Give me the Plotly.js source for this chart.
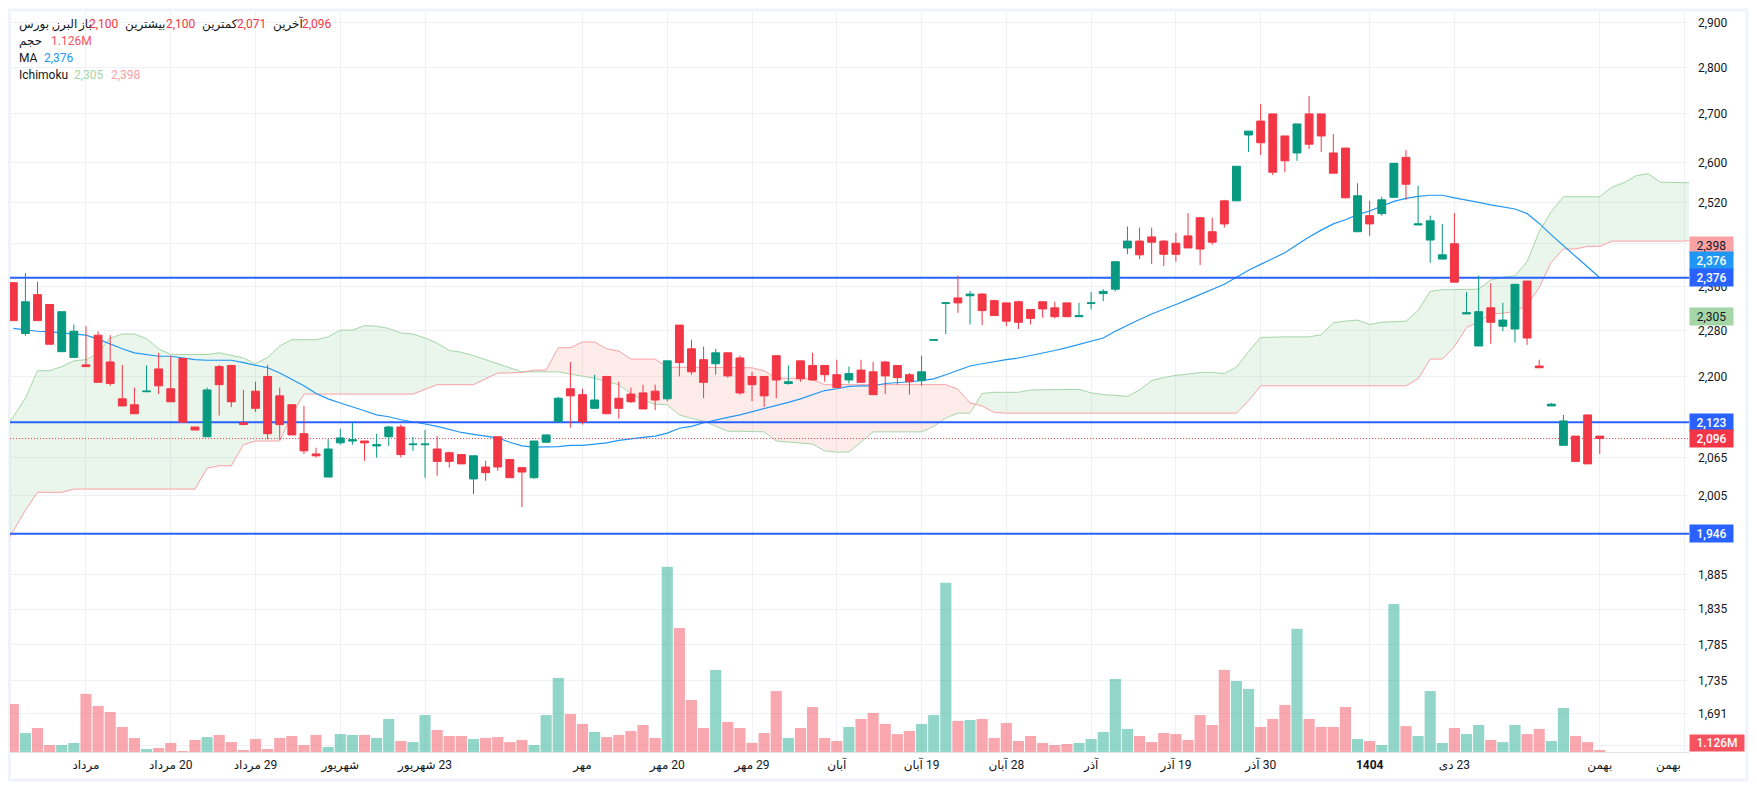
<!DOCTYPE html>
<html><head><meta charset="utf-8">
<script src="https://cdn.plot.ly/plotly-3.0.1.min.js"></script>
<style>html,body{margin:0;padding:0;background:#fff;overflow:hidden}#c{width:1757px;height:790px}</style>
</head><body><div id="c"></div>
<script>
const opens=[2367,2275,2345,2327,2243,2233,2220,2272,2225,2162,2152,2174,2213,2179,2231,2115,2099,2217,2219,2122,2175,2200,2167,2152,2104,2071,2034,2089,2092,2092,2084,2099,2115,2086,2086,2079,2073,2070,2031,2050,2099,2062,2049,2033,2090,2124,2179,2169,2146,2200,2163,2170,2172,2175,2162,2290,2248,2229,2222,2241,2232,2200,2200,2236,2188,2227,2219,2219,2203,2194,2211,2208,2225,2219,2203,2193,2263,2329,2339,2343,2346,2334,2330,2332,2318,2332,2321,2330,2305,2329,2347,2355,2432,2445,2453,2445,2441,2455,2490,2463,2523,2523,2656,2685,2700,2654,2619,2700,2700,2619,2629,2463,2494,2498,2530,2610,2476,2447,2411,2440,2310,2253,2321,2288,2283,2370,2218,2150,2085,2100,2135,2100];
const highs=[2367,2385,2369,2327,2314,2291,2288,2279,2272,2220,2181,2219,2241,2236,2231,2115,2181,2220,2219,2177,2191,2220,2181,2153,2150,2081,2095,2112,2122,2092,2104,2117,2119,2099,2110,2100,2075,2070,2068,2060,2099,2062,2049,2092,2102,2165,2225,2179,2203,2200,2191,2181,2186,2186,2227,2290,2264,2252,2248,2241,2236,2208,2200,2236,2219,2227,2241,2219,2229,2217,2229,2225,2227,2219,2206,2236,2264,2330,2380,2352,2348,2336,2330,2334,2318,2332,2332,2330,2330,2350,2355,2406,2473,2471,2471,2447,2461,2499,2490,2490,2525,2592,2664,2721,2700,2654,2679,2738,2700,2658,2629,2558,2523,2531,2598,2625,2553,2494,2478,2499,2350,2380,2366,2330,2364,2370,2229,2155,2135,2100,2135,2100];
const lows=[2298,2271,2298,2256,2243,2233,2217,2190,2184,2150,2137,2174,2170,2157,2123,2110,2099,2134,2148,2119,2140,2095,2094,2102,2071,2065,2034,2086,2086,2060,2065,2084,2065,2076,2033,2036,2049,2055,2007,2028,2044,2033,1987,2031,2090,2124,2114,2119,2146,2137,2129,2155,2145,2143,2158,2200,2203,2163,2203,2198,2169,2158,2148,2163,2186,2191,2193,2191,2181,2188,2190,2169,2170,2186,2169,2184,2263,2274,2312,2291,2290,2307,2288,2283,2291,2303,2302,2305,2305,2318,2333,2351,2420,2411,2402,2398,2406,2432,2400,2438,2471,2523,2621,2615,2574,2580,2603,2627,2621,2578,2529,2463,2455,2494,2530,2525,2476,2404,2411,2368,2310,2253,2257,2279,2259,2255,2215,2150,2085,2059,2055,2071];
const closes=[2298,2332,2298,2256,2314,2279,2217,2190,2188,2150,2137,2175,2184,2157,2123,2110,2177,2186,2157,2119,2146,2104,2119,2102,2076,2068,2079,2097,2094,2089,2086,2115,2070,2087,2087,2059,2059,2055,2068,2041,2050,2033,2042,2092,2102,2163,2167,2124,2160,2137,2146,2157,2145,2160,2227,2224,2208,2190,2241,2201,2172,2186,2167,2194,2191,2196,2194,2203,2181,2205,2190,2169,2201,2198,2191,2208,2264,2330,2330,2346,2316,2307,2297,2295,2302,2319,2305,2305,2307,2330,2351,2406,2445,2419,2443,2420,2420,2432,2430,2443,2478,2592,2664,2640,2580,2603,2679,2637,2654,2578,2529,2533,2478,2525,2598,2556,2478,2484,2419,2368,2312,2314,2295,2299,2364,2267,2215,2153,2125,2059,2055,2096];
const volumes=[27.0,10.7,13.5,3.9,3.9,5.1,32.7,25.9,22.5,14.1,7.9,1.7,2.3,5.1,0.6,6.8,8.4,9.6,5.6,1.1,7.3,1.7,7.9,9.0,3.9,9.6,2.8,10.1,9.6,9.6,7.9,18.6,6.2,5.6,20.8,12.4,9.0,9.0,7.3,7.9,8.4,5.6,6.8,3.9,20.8,41.7,21.4,15.8,11.3,8.4,9.6,11.8,15.2,7.9,104.2,69.8,29.3,13.5,46.2,16.9,13.5,5.1,10.7,34.3,7.9,13.5,25.3,7.9,6.2,14.1,18.6,22.0,15.8,10.1,11.8,15.8,20.8,95.2,17.5,18.0,18.6,7.9,16.3,6.2,9.0,5.1,3.9,4.5,5.1,7.3,11.3,41.1,13.0,9.0,5.6,10.7,10.1,6.8,20.8,15.2,46.2,40.0,35.5,14.1,18.6,26.5,69.3,18.6,14.1,14.1,25.3,7.3,6.2,3.9,83.3,14.6,9.0,34.3,5.1,13.5,10.1,15.2,6.8,5.6,15.2,10.1,13.0,6.2,24.8,9.0,5.6,1.126];
const spanA=[2105,2132,2163,2210,2210,2217,2227,2229,2240,2267,2274,2274,2266,2248,2238,2238,2238,2238,2241,2237,2232,2222,2233,2253,2264,2264,2264,2269,2281,2281,2289,2288,2284,2276,2274,2267,2258,2245,2242,2236,2229,2222,2214,2208,2208,2208,2208,2204,2201,2197,2191,2186,2171,2160,2153,2152,2135,2129,2125,2117,2108,2108,2108,2107,2092,2090,2088,2087,2076,2074,2074,2091,2107,2107,2107,2107,2107,2116,2130,2138,2138,2171,2173,2173,2173,2177,2177,2177,2178,2178,2172,2169,2168,2166,2177,2193,2198,2202,2204,2207,2207,2205,2216,2243,2268,2269,2269,2269,2269,2273,2294,2297,2299,2291,2295,2296,2297,2316,2351,2354,2354,2354,2355,2372,2377,2380,2406,2463,2502,2531,2531,2531,2531,2550,2559,2573,2577,2560,2559,2559,2560];
const spanB=[1919,1950,1982,2010,2010,2010,2015,2015,2015,2015,2015,2015,2015,2015,2015,2015,2015,2048,2052,2052,2086,2092,2092,2092,2136,2170,2170,2170,2170,2170,2170,2170,2170,2170,2170,2178,2186,2186,2186,2186,2196,2206,2206,2207,2211,2211,2250,2250,2260,2260,2248,2244,2230,2230,2230,2216,2216,2216,2216,2216,2216,2215,2215,2210,2197,2197,2197,2195,2186,2186,2186,2186,2186,2186,2186,2186,2186,2186,2186,2178,2155,2150,2139,2138,2138,2138,2138,2138,2138,2138,2138,2138,2138,2138,2138,2138,2138,2138,2138,2138,2138,2138,2138,2159,2184,2184,2184,2184,2184,2184,2184,2184,2184,2184,2184,2184,2184,2196,2230,2230,2252,2286,2295,2310,2311,2315,2326,2358,2405,2430,2430,2435,2435,2445,2445,2445,2445,2445,2445,2445,2448];
const maLine=[2284,2281,2279,2278,2276,2275,2272,2265,2256,2248,2241,2238,2235,2235,2232,2229,2228,2228,2228,2224,2220,2215,2206,2195,2184,2171,2162,2155,2149,2142,2135,2132,2127,2124,2120,2116,2111,2106,2103,2100,2097,2090,2084,2082,2082,2083,2085,2085,2087,2089,2093,2096,2098,2100,2105,2113,2116,2122,2127,2131,2135,2140,2145,2150,2156,2162,2169,2176,2179,2183,2184,2184,2188,2189,2191,2193,2196,2203,2211,2218,2222,2226,2229,2232,2236,2241,2245,2250,2256,2262,2267,2279,2290,2300,2310,2318,2327,2336,2345,2354,2364,2377,2390,2401,2412,2423,2438,2453,2466,2478,2486,2496,2503,2512,2522,2528,2532,2534,2534,2529,2525,2520,2515,2511,2507,2498,2479,2457,2436,2416,2396,2376];
const levels=[2376,2123,1946];
const yTickVals=[2900,2800,2700,2600,2520,2440,2360,2280,2200,2065,2005,1885,1835,1785,1735,1691,1650];
const yTickText=['2,900','2,800','2,700','2,600','2,520','','2,360','2,280','2,200','2,065','2,005','1,885','1,835','1,785','1,735','1,691',''];
const xTickVals=[6,13,20,27,34,47,54,61,68,75,82,89,96,103,112,119,131,138];
const xTickText=['مرداد','مرداد \u200E20','مرداد \u200E29','شهریور','شهریور \u200E23','مهر','مهر \u200E20','مهر \u200E29','آبان','آبان \u200E19','آبان \u200E28','آذر','آذر \u200E19','آذر \u200E30','<b>1404</b>','دی \u200E23','بهمن',''];
const lastMonthLabel='بهمن';
const legendRows=[
 ['البرز, بورس',18,24,'#131722'],['باز',77,24,'#131722'],['2,100',88,24,'#F23645'],['بیشترین',124,24,'#131722'],['2,100',165,24,'#F23645'],['کمترین',201,24,'#131722'],['2,071',236,24,'#F23645'],['آخرین',272,24,'#131722'],['2,096',301,24,'#F23645'],
 ['حجم',18,41,'#131722'],['1.126M',50,41,'#F7525F'],
 ['MA',18,58,'#131722'],['2,376',43,58,'#2196F3'],
 ['Ichimoku',18,75,'#131722'],['2,305',73,75,'#A5D6A7'],['2,398',110,75,'#FAA1A4']];

const L=10,R=1689,T=11,B=752;
const FONT='Roboto, "DejaVu Sans", sans-serif';
const px=x=>(x-L)/(R-L), py=y=>(B-y)/(B-T);
const RED='#F23645',GREEN='#089981',BLUE='#2962FF',MA='#2196F3',SA='#A5D6A7',SB='#FAA1A4';
const idx=opens.map((_,i)=>i);
const spanX=spanA.map((_,i)=>i-1);
const yRange=[Math.log10(1641.4),Math.log10(2925.7)];
const volMax=417;

// split cloud at the crossings so that each colour fills only its own part
const cx=[],ca=[],cb=[];
for(let i=0;i<spanX.length;i++){
  cx.push(spanX[i]);ca.push(spanA[i]);cb.push(spanB[i]);
  if(i<spanX.length-1){
    const d0=Math.log(spanA[i]/spanB[i]),d1=Math.log(spanA[i+1]/spanB[i+1]);
    if(d0*d1<0){
      const f=d0/(d0-d1);
      const v=spanA[i]*Math.pow(spanA[i+1]/spanA[i],f);
      cx.push(spanX[i]+f);ca.push(v);cb.push(v);
    }
  }
}
const cmin=ca.map((v,i)=>Math.min(v,cb[i]));
const line0={width:0,color:'rgba(0,0,0,0)'};
const base={type:'scatter',mode:'lines',hoverinfo:'skip',showlegend:false,xaxis:'x',yaxis:'y'};
const data=[
 {...base,x:cx,y:cmin,line:line0},
 {...base,x:cx,y:ca,line:line0,fill:'tonexty',fillcolor:'rgba(67,160,71,0.11)'},
 {...base,x:cx,y:cmin,line:line0},
 {...base,x:cx,y:cb,line:line0,fill:'tonexty',fillcolor:'rgba(244,67,54,0.10)'},
 {...base,x:spanX,y:spanA,line:{color:SA,width:1}},
 {...base,x:spanX,y:spanB,line:{color:SB,width:1}},
 {...base,x:idx,y:maLine,line:{color:MA,width:1.2}},
 ...levels.map(v=>({...base,x:[-2,140],y:[v,v],line:{color:BLUE,width:2}})),
 {...base,x:[-2,140],y:[closes[closes.length-1],closes[closes.length-1]],line:{color:RED,width:1,dash:'1px 2px'}},
 {type:'candlestick',x:idx,open:opens,high:highs,low:lows,close:closes,xaxis:'x',yaxis:'y2',showlegend:false,hoverinfo:'skip',whiskerwidth:0,
  increasing:{line:{color:GREEN,width:1},fillcolor:GREEN},decreasing:{line:{color:RED,width:1},fillcolor:RED}},
 {type:'bar',x:idx,y:volumes,xaxis:'x',yaxis:'y3',width:0.92,showlegend:false,hoverinfo:'skip',
  marker:{line:{width:0},color:closes.map((c,i)=>c>=opens[i]?'rgba(0,160,130,0.43)':'rgba(242,54,69,0.43)')}}
];
const boxes=[
 {v:2398,t:'2,398',bg:SB,fg:'#131722',shift:21,w:400},
 {v:maLine[maLine.length-1],t:'2,376',bg:MA,fg:'#fff',shift:17,w:500},
 {v:levels[0],t:'2,376',bg:BLUE,fg:'#fff',shift:0,w:500},
 {v:2305,t:'2,305',bg:SA,fg:'#131722',shift:0,w:400},
 {v:levels[1],t:'2,123',bg:BLUE,fg:'#fff',shift:0,w:500},
 {v:closes[closes.length-1],t:'2,096',bg:RED,fg:'#fff',shift:0,w:500},
 {v:levels[2],t:'1,946',bg:BLUE,fg:'#fff',shift:0,w:500}
];
const ann=[
 ...legendRows.map(r=>({text:r[0],xref:'paper',yref:'paper',x:px(r[1]),y:py(r[2]),xanchor:'left',yanchor:'middle',showarrow:false,font:{family:FONT,size:12,color:r[3]},borderpad:0})),
 ...boxes.map(b=>({text:b.t,xref:'paper',yref:'y',x:1,y:Math.log10(b.v),yshift:b.shift,xanchor:'left',yanchor:'middle',showarrow:false,bgcolor:b.bg,width:43,height:17,borderpad:0,align:'center',font:{family:FONT,size:12,color:b.fg,weight:b.w}})),
 {text:'1.126M',xref:'paper',yref:'paper',x:1,y:0,xanchor:'left',yanchor:'bottom',showarrow:false,bgcolor:'#F7525F',width:54,height:16,borderpad:0,align:'center',font:{family:FONT,size:12,color:'#fff',weight:500}},
 {text:lastMonthLabel,xref:'x',yref:'paper',x:136.65,y:py(765),xanchor:'center',yanchor:'middle',showarrow:false,font:{family:FONT,size:12,color:'#131722'},borderpad:0}
];
const layout={
 width:1757,height:790,margin:{l:L,r:1757-R,t:T,b:790-B},paper_bgcolor:'#fff',plot_bgcolor:'#fff',showlegend:false,
 font:{family:FONT,size:12,color:'#131722'},boxgap:0.35,boxgroupgap:0,bargap:0.08,
 xaxis:{range:[-0.273,138.37],tickmode:'array',tickvals:xTickVals,ticktext:xTickText,showgrid:true,gridcolor:'#F0F1F4',gridwidth:1,zeroline:false,showline:true,linecolor:'#E0E3EB',linewidth:1,ticks:'',ticklabelstandoff:2,tickangle:0,tickfont:{family:FONT,size:12,color:'#131722'},rangeslider:{visible:false},fixedrange:true},
 yaxis:{type:'log',range:yRange,side:'right',tickmode:'array',tickvals:yTickVals,ticktext:yTickText,showgrid:true,gridcolor:'#F0F1F4',gridwidth:1,zeroline:false,showline:false,ticks:'',ticklabelstandoff:8,tickfont:{family:FONT,size:12,color:'#131722'},fixedrange:true},
 yaxis2:{type:'log',range:yRange,overlaying:'y',side:'right',visible:false,fixedrange:true},
 yaxis3:{range:[0,volMax],overlaying:'y',side:'left',visible:false,fixedrange:true},
 shapes:[{type:'rect',xref:'paper',yref:'paper',x0:px(9.5),x1:px(1747),y0:py(780),y1:py(10),line:{color:'#F0F3FA',width:3},fillcolor:'rgba(0,0,0,0)',layer:'below'}],
 annotations:ann
};
Plotly.newPlot('c',data,layout,{displayModeBar:false,staticPlot:true});
</script></body></html>
